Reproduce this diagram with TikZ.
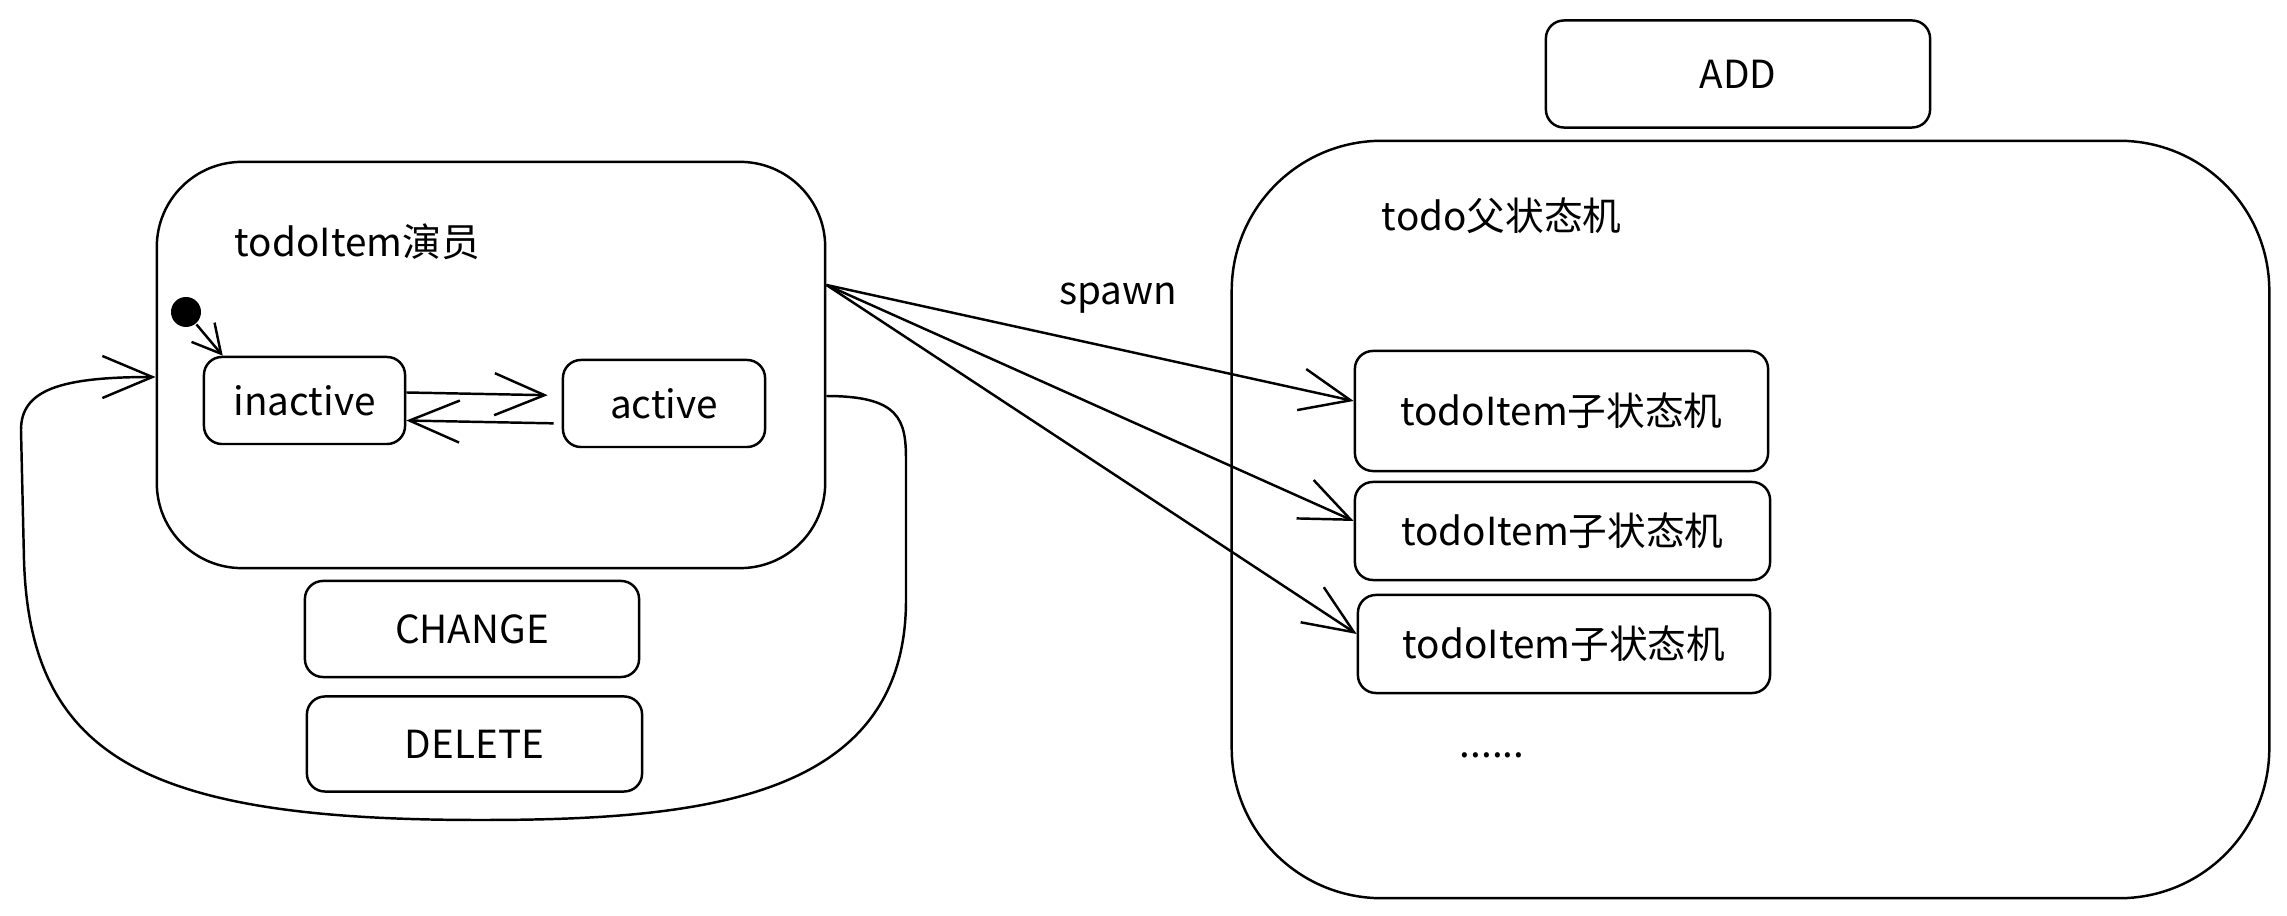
\documentclass[tikz,border=0pt]{standalone}
\usepackage{fontspec}
\usepackage{tikz}
\usetikzlibrary{arrows.meta}
\newfontfamily\cjk{Noto Sans CJK SC}

\begin{document}
\begin{tikzpicture}[x=0.01cm, y=-0.01cm, line width=0.7pt,
  every node/.style={font=\cjk\fontsize{11}{13}\selectfont},
  state/.style={draw, rounded corners=0.18cm, inner sep=0},
  bigbox/.style={draw, rounded corners=#1, inner sep=0},
  arr/.style={-{Straight Barb[length=0.5cm, width=0.42cm]}},
  smallarr/.style={-{Straight Barb[length=0.28cm, width=0.3cm]}}]

  \useasboundingbox (0, 0) rectangle (2287, 916);

  \node[bigbox=0.85cm, minimum width=6.68cm, minimum height=4.06cm] (actor) at (491, 365) {};
  \node[anchor=west] (actortitle) at (222, 242) {todoItem演员};
  \node[circle, fill, minimum size=0.3cm, inner sep=0] (init) at (186, 312) {};
  \node[state, minimum width=2.01cm, minimum height=0.87cm] (inactive) at (304.5, 400.5) {inactive};
  \node[state, minimum width=2.02cm, minimum height=0.87cm] (active) at (664, 403.5) {active};

  \draw [smallarr] (init) -- ([xshift=2mm]inactive.north west);
  \draw [arr, shorten >=1.4mm] ([yshift=0.8mm]inactive.east) -- ([yshift=0.8mm]active.west);
  \draw [arr, shorten <=0.8mm] ([yshift=-2mm]active.west) -- ([yshift=-2mm]inactive.east);

  \node[state, minimum width=3.34cm, minimum height=0.96cm] (change) at (472, 629) {CHANGE};
  \node[state, minimum width=3.35cm, minimum height=0.95cm] (delete) at (474.5, 744) {DELETE};

  \draw [arr] ([yshift=-3.1mm]actor.east) .. controls (900, 396) and (906, 420) .. (906, 460)
    -- (906, 600) .. controls (906, 800) and (700, 820) .. (480, 820)
    .. controls (150, 820) and (30, 760) .. (24, 560)
    -- (21, 430) .. controls (21, 390) and (60, 377) .. ([yshift=-1.2mm]actor.west);

  \node[state, minimum width=3.84cm, minimum height=1.07cm] (add) at (1738, 74) {ADD};
  \node[bigbox=1.5cm, minimum width=10.37cm, minimum height=7.57cm] (parent) at (1750.5, 519.5) {};
  \node[anchor=west] (parenttitle) at (1369, 216) {todo父状态机};

  \node[state, minimum width=4.13cm, minimum height=1.20cm] (c1) at (1561.5, 411) {todoItem子状态机};
  \node[state, minimum width=4.15cm, minimum height=0.98cm] (c2) at (1562.5, 531) {todoItem子状态机};
  \node[state, minimum width=4.12cm, minimum height=0.98cm] (c3) at (1564, 644) {todoItem子状态机};
  \node[] (more) at (1492, 755) {......};

  \coordinate (spawnsrc) at ([yshift=8mm]actor.east);
  \foreach \i in {1, 2, 3}
    \draw [arr] (spawnsrc) -- ([yshift=1mm]c\i.west);
  \node[] (spawnlbl) at (1118, 298) {spawn};

\end{tikzpicture}
\end{document}
